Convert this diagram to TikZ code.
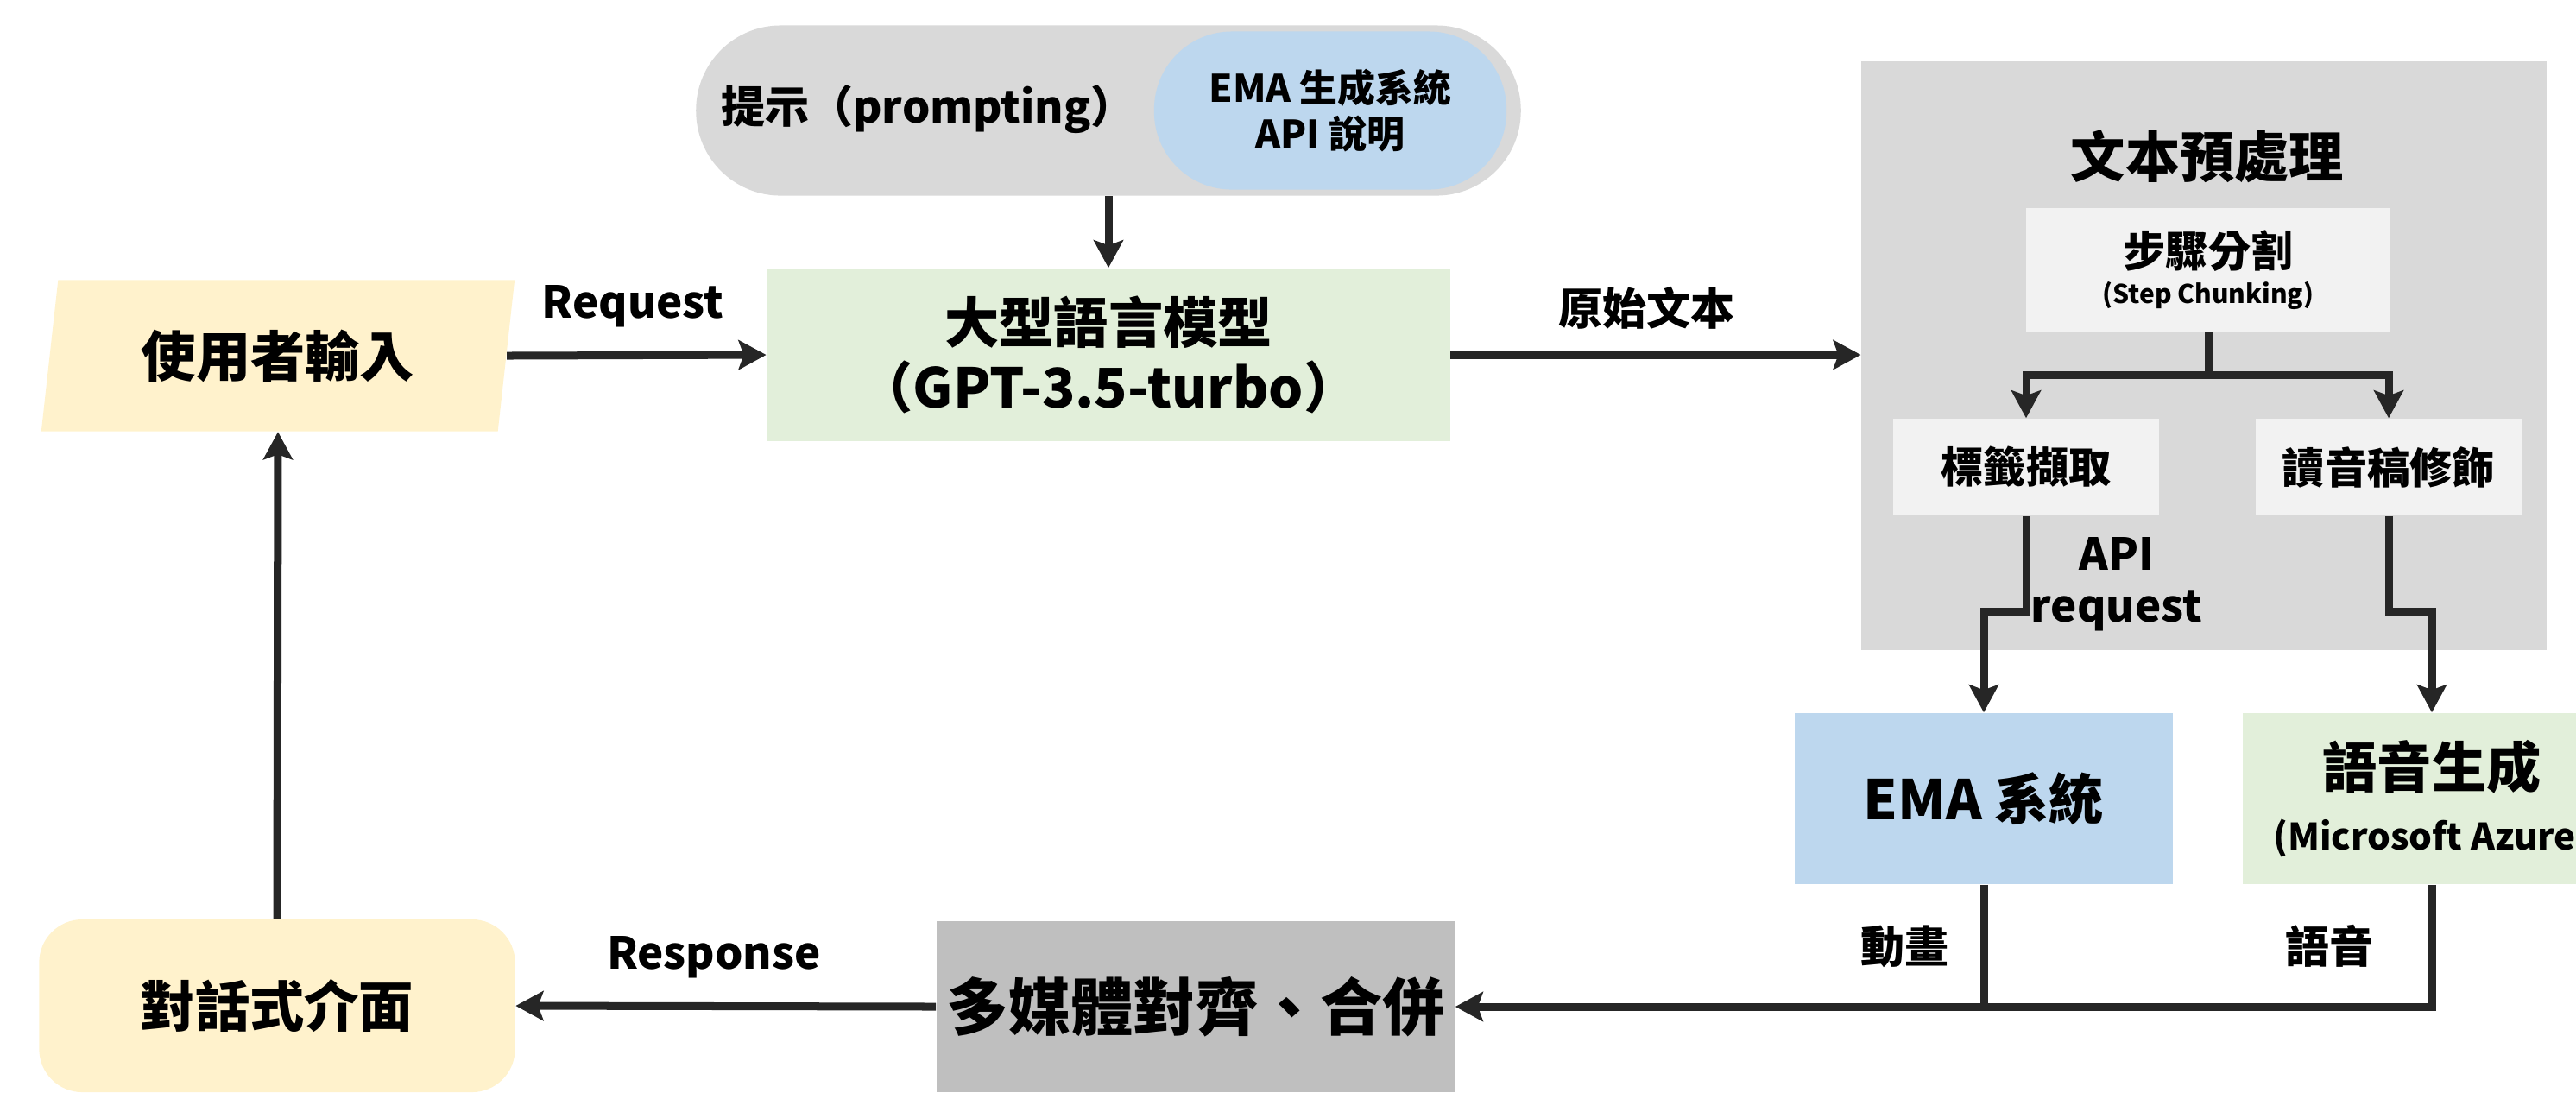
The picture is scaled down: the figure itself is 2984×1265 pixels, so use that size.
\documentclass[tikz,border=0pt]{standalone}
\usepackage{fontspec}
\setmainfont{Noto Sans CJK TC}
\usetikzlibrary{positioning, arrows.meta, shapes.geometric}

\definecolor{inputyellow}{HTML}{FFF2CC}
\definecolor{llmgreen}{HTML}{E2EFDA}
\definecolor{emablue}{HTML}{BDD7EE}
\definecolor{pillgray}{HTML}{D9D9D9}
\definecolor{subgray}{HTML}{F2F2F2}
\definecolor{mergegray}{HTML}{BFBFBF}
\definecolor{arrowgray}{HTML}{262626}

\begin{document}
\begin{tikzpicture}[
    x=0.01cm, y=-0.01cm,
    bigtext/.style={font=\bfseries\fontsize{18}{21.5}\selectfont, align=center, text=black},
    box/.style={rectangle, bigtext, minimum width=4.37cm, minimum height=1.98cm},
    subbox/.style={rectangle, fill=subgray, font=\bfseries\fontsize{14}{17}\selectfont, align=center, minimum width=3.07cm, minimum height=1.12cm},
    lbl/.style={font=\bfseries\fontsize{14.5}{17}\selectfont, align=center},
    line/.style={draw=arrowgray, line width=0.09cm},
    arrow/.style={line, -{Stealth[length=0.32cm, width=0.34cm, inset=0.06cm]}},
]

\path[use as bounding box, clip] (0,0) rectangle (2984,1265);

% User side
\node[trapezium, trapezium left angle=77, trapezium right angle=103, trapezium stretches body,
      fill=inputyellow, bigtext, minimum width=5.48cm, minimum height=1.75cm] (userin) at (322,412) {使用者輸入};
\node[box, rounded corners=0.5cm, fill=inputyellow, minimum width=5.51cm, minimum height=2cm] (dialog) at (321,1165) {對話式介面};

% Prompt and language model
\node[rectangle, rounded corners=0.98cm, fill=pillgray, minimum width=9.55cm, minimum height=1.97cm] (prompt) at (1284,128) {};
\node[lbl] (prompttxt) at (1075,127) {提示（prompting）};
\node[rectangle, rounded corners=0.9cm, fill=emablue, font=\bfseries\fontsize{12.5}{15}\selectfont, align=center,
      minimum width=4.08cm, minimum height=1.83cm] (apidoc) at (1541,128) {EMA 生成系統\\API 說明};
\node[box, fill=llmgreen, minimum width=7.91cm, minimum height=2cm] (llm) at (1284,411) {大型語言模型\\（GPT-3.5-turbo）};

% Text preprocessing
\node[rectangle, fill=pillgray, minimum width=7.93cm, minimum height=6.82cm] (preproc) at (2553,412) {};
\node[bigtext] (pretitle) at (2557,181) {文本預處理};
\node[subbox, minimum width=4.21cm, minimum height=1.43cm] (chunk) at (2558,313) {步驟分割\\[-5pt]{\fontsize{8.5}{10}\selectfont (Step Chunking)}};
\node[subbox] (tag) at (2347,541) {標籤擷取};
\node[subbox] (script) at (2767,541) {讀音稿修飾};

% Generators
\node[box, fill=emablue] (ema) at (2298,925) {EMA 系統};
\node[box, fill=llmgreen] (tts) at (2817,925) {語音生成\\[-1pt]{\fontsize{12}{14}\selectfont (Microsoft Azure)}};
\node[box, fill=mergegray, minimum width=5.87cm, font=\bfseries\fontsize{20.5}{24}\selectfont] (merge) at (1385,1166) {多媒體對齊、合併};

% Labels
\node[lbl] (reqlbl) at (733,355) {Request};
\node[lbl] (rawlbl) at (1907,357) {原始文本};
\node[lbl] (apilbl) at (2452,677) {API\\request};
\node[lbl] (animlbl) at (2206,1096) {動畫};
\node[lbl] (voicelbl) at (2698,1096) {語音};
\node[lbl] (resplbl) at (827,1109) {Response};

% Arrows
\draw[arrow] (userin.east) -- (llm.west);
\draw[arrow] (prompt.south) -- (llm.north);
\draw[arrow] (llm.east) -- (preproc.west |- llm.east);
\draw[line] (chunk.south) -- ++(0,49) coordinate (fork);
\draw[arrow] (fork) -| (tag.north);
\draw[arrow] (fork) -| (script.north);
\draw[arrow] (tag.south) -- ++(0,111) -| (ema.north);
\draw[arrow] (script.south) -- ++(0,111) -| (tts.north);
\draw[line] (ema.south) -- (ema.south |- merge.east);
\draw[arrow] (tts.south) |- (merge.east);
\draw[arrow] (merge.west) -- (dialog.east);
\draw[arrow] (dialog.north) -- (userin.south);

\end{tikzpicture}
\end{document}
